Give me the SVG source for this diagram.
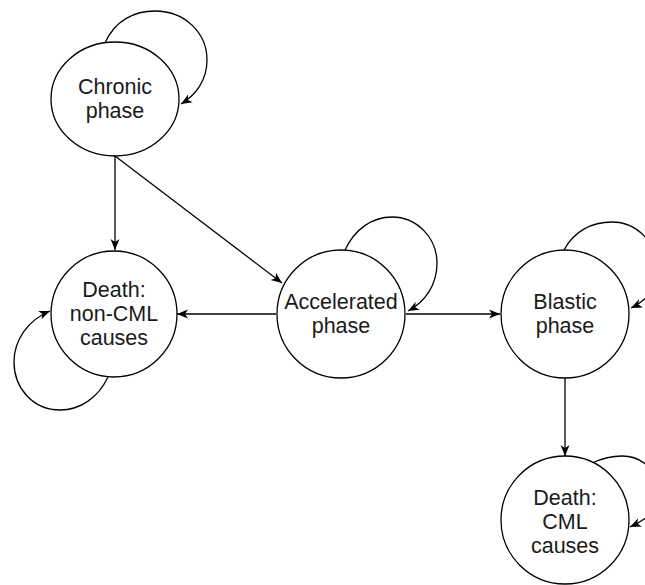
<svg xmlns="http://www.w3.org/2000/svg" width="645" height="585" viewBox="0 0 645 585">
<style>
.node{fill:#fff;stroke:#000;stroke-width:1.3}
.lbl{font-family:"Liberation Sans",Arial,Helvetica,sans-serif;font-size:21.5px;fill:#1a1a1a;text-anchor:middle}
.edge{fill:none;stroke:#000;stroke-width:1.3;marker-end:url(#arr)}
</style>
<defs>
<marker id="arr" markerUnits="userSpaceOnUse" markerWidth="12" markerHeight="10" refX="11" refY="5" orient="auto">
<path d="M0,0.5 L11,5 L0,9.5 L3,5 Z" fill="#000"/>
</marker>
</defs>
<rect width="645" height="585" fill="#fff"/>
<g id="connectors">
<path class="edge" d="M105,43 C115,20 135,11 155,11 C185,11 207,33 207,60 C207,80 196,95 181,104"/>
<path class="edge" d="M345,250 C355,229 372,217 392,217 C417,217 437,238 437,263 C437,285 425,302 408,311"/>
<path class="edge" d="M564,250 C574,231 592,222 612,222 C637,222 657,243 657,268 C657,288 646,301 631,308"/>
<path class="edge" d="M592,463 C603,458 613,456 622,456 C645,456 660,475 660,495 C660,510 645,520 630,527"/>
<path class="edge" d="M108,377 C98,398 80,410 60,410 C33,410 14,388 14,362 C14,340 28,320 50,311"/>
<path class="edge" d="M115,156 L115,250"/>
<path class="edge" d="M115,156 L282,283"/>
<path class="edge" d="M276,314 L177,314"/>
<path class="edge" d="M406,314 L500,314"/>
<path class="edge" d="M565,378 L565,456"/>
</g>
<g id="chronic">
<ellipse class="node" cx="115" cy="99" rx="64" ry="57"/>
<text class="lbl" x="115" y="94">Chronic</text>
<text class="lbl" x="115" y="118">phase</text>
</g>
<g id="death-noncml">
<circle class="node" cx="114" cy="314" r="63"/>
<text class="lbl" x="114" y="297">Death:</text>
<text class="lbl" x="114" y="321">non-CML</text>
<text class="lbl" x="114" y="345">causes</text>
</g>
<g id="accelerated">
<circle class="node" cx="341" cy="314" r="64"/>
<text class="lbl" x="341" y="309">Accelerated</text>
<text class="lbl" x="341" y="333">phase</text>
</g>
<g id="blastic">
<circle class="node" cx="565" cy="314" r="64"/>
<text class="lbl" x="565" y="309">Blastic</text>
<text class="lbl" x="565" y="333">phase</text>
</g>
<g id="death-cml">
<circle class="node" cx="565" cy="520" r="64"/>
<text class="lbl" x="565" y="505">Death:</text>
<text class="lbl" x="565" y="529">CML</text>
<text class="lbl" x="565" y="553">causes</text>
</g>
</svg>
